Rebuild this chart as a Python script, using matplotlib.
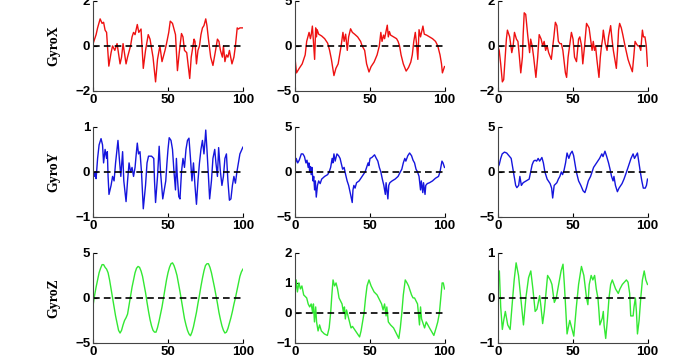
#!/usr/bin/env python3
# -*- coding: utf-8 -*-

"""3x3 gyro traces (GyroX / GyroY / GyroZ), MATLAB style panels."""

import numpy as np
import matplotlib
matplotlib.use("Agg")
import matplotlib.pyplot as plt

plt.rcParams["font.family"] = ["Liberation Sans", "DejaVu Sans"]

# ============================
# Data
# ============================
ROW_LABELS = ["GyroX", "GyroY", "GyroZ"]

# row 1 - GyroX
gx1_x = [0, 1, 2, 3, 4.7, 6, 7, 8, 9, 10.5, 12, 13, 14.5, 16, 18, 19, 20, 22, 23, 25, 26, 27, 28, 29.5,
         30.5, 32, 33.5, 35, 36.8, 38, 40, 41.7, 43, 44.6, 46, 48, 49, 50.5, 51.5, 53, 55, 56.3, 57.5, 59,
         60, 61, 62.5, 64.5, 65.5, 67.4, 68, 69, 70, 71, 72, 73, 74, 75.2, 76, 77, 78.5, 80, 81.5, 83, 84,
         85, 86.3, 87, 88, 89, 90, 91, 92.7, 94, 95, 96.2, 97, 98, 100]
gx1_y = [0.1, 0.3, 0.5, 0.8, 1.2, 1.0, 1.05, 0.7, 0.6, -0.9, -0.3, 0.0, -0.2, 0.1, -0.8, -0.5, 0.1, -0.8,
         -0.5, 0.0, 0.4, 0.6, 0.5, 0.95, 0.6, 0.75, -1.0, -0.2, 0.5, 0.3, -0.5, -1.6, -0.6, 0.0, -0.7,
         -0.2, 0.1, 0.6, 1.1, 1.0, 0.5, -1.1, -0.3, 0.55, 0.4, -0.2, -0.3, -1.45, -0.5, 0.3, 0.2, -0.8,
         -0.2, 0.0, 0.5, 0.8, 0.9, 1.2, 0.9, 0.3, -0.5, -0.87, -0.3, 0.3, 0.2, -0.2, -0.5, 0.0, -0.7,
         -0.4, -0.5, -0.2, -0.8, -0.5, 0.0, 0.8, 0.75, 0.8, 0.8]

gx2_x = [0, 1.2, 3, 5, 7, 8, 9.6, 10.5, 11, 11.8, 12.5, 13.3, 14, 14.5, 15, 16, 18, 20, 22, 23.3, 24.5,
         26.2, 27.5, 29, 30, 31, 32.2, 33, 34, 35.1, 36, 37.3, 38.5, 40, 42, 44, 45, 46.7, 48, 49.6, 51,
         53, 55, 56.5, 57.5, 58.3, 59.3, 60, 61.8, 62.5, 63.2, 64, 66, 68, 69, 70, 71, 72.5, 74.4, 76,
         77.5, 78.5, 79.5, 80.5, 81.3, 82.2, 83, 84, 85.6, 86.5, 88, 90, 92, 94, 95.5, 97, 98, 98.6, 100]
gx2_y = [-1.0, -3.0, -2.5, -2.0, -1.0, 0.5, 1.5, 0.8, 1.2, 2.2, 0.5, -1.5, 2.0, 1.0, 1.8, 1.3, 1.1, 0.8,
         0.3, -0.5, -1.5, -3.3, -2.5, -2.0, -1.0, 0.0, 1.5, 0.5, 1.3, -0.5, 1.0, 1.9, 1.5, 1.3, 1.0, 0.5,
         0.0, -0.5, -2.0, -2.9, -2.3, -1.8, -1.0, 0.0, 1.5, 0.5, 1.2, 0.8, 2.3, 1.0, 1.6, 1.2, 1.0, 0.8,
         0.5, 0.0, -1.0, -2.0, -2.8, -2.4, -1.8, -1.0, 0.5, 1.5, 0.3, -1.5, 1.8, 1.0, 2.2, 1.3, 1.2, 1.0,
         0.8, 0.5, 0.0, -1.0, -2.0, -3.0, -2.3]

gx3_x = [0, 1, 2, 3.1, 4, 5, 5.8, 6.5, 8, 9.4, 10.3, 11.2, 12.5, 13.5, 14.5, 15.4, 16.5, 17, 17.7, 18.7,
         20, 21.3, 22, 23, 24, 25.5, 26.7, 27.7, 29, 30, 31, 32, 33, 34, 35.8, 36.8, 37.5, 38.5, 39.5,
         40.5, 41.5, 42.5, 43.5, 45.2, 46, 47, 49.2, 50.3, 51.3, 52.6, 53.3, 54, 54.8, 56, 56.8, 58, 59.3,
         61, 62, 63, 63.8, 64.6, 65.3, 66.2, 67.6, 68.5, 69.3, 70, 70.5, 71.8, 73, 74, 75.4, 76.3, 77.2,
         79.2, 80, 80.7, 81.4, 82.5, 83.5, 85, 86, 87, 88, 89.9, 90.8, 91.7, 92.5, 93.5, 94.5, 95.5, 96.6,
         97.3, 98.3, 99.2, 100]
gx3_y = [0.0, -0.2, -0.8, -1.6, -1.5, -0.5, 0.3, 0.7, 0.4, -0.3, 0.0, 0.6, 0.3, 0.2, -0.5, -1.2, -0.5,
         0.5, 1.47, 1.4, 0.5, -0.3, 0.3, 0.0, -0.5, -1.4, -0.5, 0.5, 0.3, 0.0, 0.2, -0.2, 0.0, -0.3, -0.6,
         0.0, 0.4, 1.05, 0.9, 0.2, 0.1, 0.1, -0.2, -1.2, -1.4, -0.5, 0.6, 0.3, -0.5, -0.7, -0.2, 0.3, 0.4,
         0.0, -0.8, 0.0, 1.0, 0.8, 0.3, -0.2, 0.2, -0.2, 0.0, -0.6, -1.4, -0.5, 0.0, 0.3, 0.7, 0.1, -0.2,
         0.4, 0.9, 0.3, -0.2, -1.0, -0.2, 0.7, 1.0, 0.8, 0.5, 0.0, -0.3, -0.6, -0.8, -1.15, -0.5, 0.2,
         0.1, 0.0, 0.0, -0.2, 0.7, 0.4, 0.4, 0.0, -0.9]

# row 2 - GyroY
gy1_x = [0, 1, 1.5, 2, 3, 4, 5.3, 6.3, 7, 8, 9, 9.5, 10, 10.6, 12, 13, 14, 15, 15.8, 16.6, 17.5, 18.5,
         19.7, 20.5, 22, 23, 24, 25, 26, 27, 28, 28.8, 29.5, 30.3, 31.3, 32.3, 33.5, 35, 36, 37, 39, 40.5,
         41, 41.7, 43, 44.1, 45, 46.5, 47.5, 48.5, 49.3, 50, 50.8, 52, 53, 54, 55, 55.6, 56.2, 57.2, 58,
         59, 60, 61, 62, 63, 64, 65, 66, 67, 68, 69, 70, 71, 72, 73, 74, 74.5, 75.2, 76, 77, 77.8, 79,
         80, 81.2, 82, 83, 83.8, 85, 86, 87, 88, 89, 90, 91, 92, 93, 94, 95, 96, 97, 98, 100]
gy1_y = [0.0, -0.1, 0.0, -0.15, 0.3, 0.6, 0.74, 0.6, 0.2, 0.5, 0.3, 0.45, -0.1, -0.5, -0.3, -0.1, -0.2,
         0.2, 0.45, 0.7, 0.3, -0.1, 0.45, -0.2, -0.66, -0.2, 0.2, 0.0, 0.1, -0.1, 0.1, 0.4, 0.64, 0.4,
         0.45, 0.0, -0.82, -0.3, 0.2, 0.35, 0.35, 0.3, -0.2, -0.68, -0.1, 0.57, 0.0, -0.6, -0.4, -0.2,
         0.2, 0.5, 0.76, 0.7, 0.5, 0.0, -0.4, 0.3, -0.1, -0.55, -0.6, 0.0, 0.3, 0.1, 0.5, 0.7, 0.75, 0.3,
         -0.2, 0.2, -0.3, -0.72, -0.2, 0.2, 0.5, 0.7, 0.4, 0.6, 0.93, 0.5, -0.1, -0.6, -0.2, 0.3, 0.5,
         0.2, -0.1, 0.54, 0.0, -0.3, -0.1, 0.3, 0.4, -0.2, -0.63, -0.6, -0.3, -0.1, -0.25, 0.0, 0.2, 0.4,
         0.55]

gy2_x = [0, 1, 2, 3, 4.4, 5.5, 6.5, 7.5, 8.2, 9, 9.5, 10, 10.5, 11, 11.5, 12.2, 12.7, 13.3, 13.8, 14.4,
         15.2, 16, 17, 18, 20, 22, 23, 24, 25, 25.5, 26.2, 27, 28.2, 29.3, 30.3, 31, 32, 33, 34, 35, 36,
         37.3, 38.4, 38.9, 39.5, 40.3, 41.3, 43, 45, 47, 48, 49, 49.5, 50.3, 51.5, 53.3, 54.5, 55.5, 56.5,
         57.5, 58.5, 59.5, 60.5, 61, 62.2, 62.8, 63.5, 65, 67, 69, 70.5, 71.5, 72.5, 73.5, 74.2, 75.5,
         76.7, 78, 79, 80, 81, 82, 83, 84, 84.5, 85.5, 86, 87, 87.5, 88.5, 90, 92, 94, 96, 97, 98.3, 99,
         100]
gy2_y = [0.5, 1.5, 1.0, 1.3, 2.0, 2.0, 1.7, 1.0, 1.3, 0.5, 1.0, 0.0, 0.6, -0.3, 0.5, -1.0, -0.5, -2.0,
         -1.0, -2.8, -1.5, -1.0, -1.3, -0.8, -0.5, -0.3, 0.0, 0.5, 1.5, 1.0, 2.0, 1.2, 2.0, 1.8, 1.5, 1.0,
         0.3, 0.5, -0.3, -1.0, -1.5, -2.5, -3.4, -2.0, -1.5, -1.8, -1.2, -1.0, -0.5, 0.0, 0.5, 1.0, 0.7,
         1.5, 1.6, 1.9, 1.5, 1.2, 0.5, 0.0, -0.8, -1.5, -2.5, -1.2, -3.0, -1.5, -1.2, -1.0, -0.8, -0.5,
         0.0, 0.3, 1.0, 1.5, 1.2, 1.8, 2.1, 1.8, 1.3, 1.0, 0.3, 0.0, -0.5, -2.0, -1.0, -2.3, -1.2, -2.5,
         -1.5, -1.3, -1.2, -1.0, -0.7, -0.5, 0.0, 1.2, 1.0, 0.5]

gy3_x = [0, 1, 2, 3, 4.5, 6, 7.5, 9, 10, 11, 12, 12.8, 14, 14.8, 15.8, 17, 19, 21, 22, 23, 24, 25, 26,
         27, 28, 29.5, 30.5, 31.5, 33, 35, 36, 36.7, 37.7, 39.5, 40.5, 41.5, 42.5, 43.3, 44.3, 45.3, 46.3,
         47.5, 48.5, 49.7, 50.7, 51.5, 52.5, 54, 55.5, 57, 58.2, 59.2, 60.5, 62, 63, 64, 66, 68, 69.5,
         70.3, 71.6, 72.6, 74, 75, 76, 77, 77.6, 78.6, 79.9, 81, 83, 84.3, 86, 87, 88, 89, 90.4, 91.3,
         92.3, 93.3, 94.3, 95.2, 96.2, 97.2, 98.5, 99.3, 100]
gy3_y = [0.5, 0.8, 1.5, 2.0, 2.2, 2.1, 1.8, 1.5, 0.5, -0.5, -1.5, -1.75, -1.5, -0.5, -1.5, -1.2, -1.0,
         -0.8, 0.0, 0.8, 1.2, 1.3, 1.2, 1.5, 1.2, 1.6, 1.0, 0.0, -0.8, -1.3, -1.8, -2.9, -1.5, -1.2, -0.8,
         -0.5, 0.0, -0.3, 0.2, 1.0, 2.1, 1.5, 2.0, 2.3, 1.8, 1.0, 0.0, -1.0, -1.5, -2.1, -2.3, -1.8, -1.0,
         -0.5, 0.0, 0.5, 1.0, 1.5, 2.0, 1.7, 2.3, 1.8, 1.0, 0.3, -0.5, -1.0, -0.5, -1.5, -2.2, -1.8, -1.3,
         -0.8, 0.0, 0.5, 1.0, 1.5, 2.0, 1.5, 1.8, 2.1, 1.0, 0.0, -1.0, -1.8, -1.8, -1.5, -0.8]

# row 3 - GyroZ
gz1_x = list(range(101))
gz1_y = [-0.8, 0.3, 1.2, 2.0, 2.8, 3.3, 3.7, 3.7, 3.4, 3.2, 2.8, 2.0, 1.0, 0.0, -1.0, -2.0, -2.8, -3.6,
         -3.9, -3.6, -3.0, -2.5, -2.2, -1.8, -0.8, 0.2, 1.2, 2.0, 2.8, 3.3, 3.5, 3.4, 3.0, 2.4, 1.5, 0.6,
         -0.5, -1.5, -2.4, -3.1, -3.6, -3.8, -3.8, -3.3, -2.6, -1.8, -1.0, 0.0, 1.0, 2.0, 2.8, 3.4, 3.8,
         3.9, 3.6, 3.1, 2.5, 1.6, 0.7, -0.3, -1.3, -2.3, -3.0, -3.6, -4.0, -4.2, -3.8, -3.2, -2.4, -1.6,
         -0.6, 0.3, 1.3, 2.2, 3.0, 3.6, 3.8, 3.8, 3.4, 2.8, 2.0, 1.2, 0.3, -0.6, -1.6, -2.4, -3.1, -3.6,
         -3.9, -3.8, -3.4, -2.8, -2.2, -1.5, -0.7, 0.0, 0.8, 1.6, 2.4, 2.9, 3.2]

gz2_x = [0, 1, 1.8, 2.8, 3.8, 4.8, 6, 8, 9, 10, 11, 12, 12.5, 13.2, 14, 14.6, 15.6, 16.6, 17.8, 19.8,
         21.8, 23, 24, 24.8, 25.6, 26.6, 27.6, 28.6, 29.6, 30.6, 31.6, 32.6, 33.2, 33.8, 34.6, 35.6, 36.6,
         37.6, 38.6, 40.6, 43.3, 44.3, 45.3, 46.3, 47.3, 48.3, 49.6, 51, 53, 55, 57, 58, 59, 60, 61, 61.5,
         62.5, 64, 66, 68, 69.5, 70.5, 71.5, 72.5, 73.8, 75, 76, 78, 79, 80, 82, 83.3, 84, 84.7, 86.7,
         87.8, 90, 92.9, 94.4, 95.5, 96.6, 97.7, 98.4, 99.2, 100]
gz2_y = [0.5, 1.1, 0.7, 1.0, 0.8, 0.9, 0.6, 0.5, 0.3, 0.2, 0.3, 0.0, 0.3, -0.3, 0.2, -0.3, -0.6, -0.4,
         -0.6, -0.7, -0.75, -0.5, 0.0, 0.6, 1.1, 0.9, 1.0, 0.8, 0.5, 0.4, 0.3, 0.0, 0.2, -0.2, 0.1, -0.1,
         -0.3, -0.5, -0.45, -0.6, -0.8, -0.6, -0.3, 0.0, 0.5, 0.9, 1.1, 0.9, 0.7, 0.6, 0.4, 0.3, 0.1, 0.3,
         -0.1, 0.2, -0.3, -0.4, -0.5, -0.7, -0.85, -0.5, 0.0, 0.6, 1.1, 1.0, 0.9, 0.6, 0.5, 0.5, 0.3,
         -0.4, 0.2, -0.2, -0.5, -0.3, -0.5, -0.75, -0.5, -0.3, 0.0, 0.6, 1.0, 1.0, 0.8]

gz3_x = [0, 1.1, 2, 3.1, 4, 5.1, 6.7, 8.3, 10, 11, 12.3, 13.9, 15.4, 17.2, 18.8, 20.6, 22.1, 23.5, 25,
         26.2, 28, 28.9, 30, 31.1, 33.3, 35.1, 36.2, 37.8, 39.1, 40.7, 42.3, 43.6, 44.5, 45.5, 46.3, 48.1,
         50.8, 52.5, 54, 55.9, 57.5, 59.3, 60.2, 61.1, 62.4, 63.5, 64.7, 65.8, 66.9, 67.6, 68.2, 69.8,
         70.5, 71, 72.1, 73.2, 74.3, 75.4, 76.5, 77.6, 78.7, 80.5, 81.6, 83.2, 85.9, 87, 88.1, 88.8, 90.4,
         91, 91.9, 92.6, 93.3, 94.4, 95.5, 96.6, 97.8, 98.9, 100]
gz3_y = [0.6, 0.6, -0.2, -0.7, -0.5, -0.3, -0.6, -0.7, 0.0, 0.4, 0.78, 0.5, 0.0, -0.6, 0.0, 0.45, 0.6,
         0.2, -0.3, -0.25, 0.05, -0.2, -0.57, -0.3, 0.5, 0.4, 0.3, -0.1, 0.0, 0.3, 0.6, 0.75, 0.3, -0.3,
         -0.8, -0.5, -0.85, -0.2, 0.3, 0.7, 0.5, 0.0, -0.15, 0.3, 0.5, 0.4, 0.5, 0.2, 0.0, -0.3, -0.6,
         -0.45, -0.3, -0.6, -0.9, -0.5, 0.0, 0.3, 0.4, 0.3, 0.2, 0.1, 0.2, 0.3, 0.4, 0.35, 0.1, -0.4,
         -0.4, -0.2, 0.0, -0.3, -0.8, -0.5, 0.0, 0.4, 0.6, 0.4, 0.3]

PANEL_DATA = [
    [(gx1_x, gx1_y), (gx2_x, gx2_y), (gx3_x, gx3_y)],
    [(gy1_x, gy1_y), (gy2_x, gy2_y), (gy3_x, gy3_y)],
    [(gz1_x, gz1_y), (gz2_x, gz2_y), (gz3_x, gz3_y)],
]

# y tick values per panel
Y_TICKS = [
    [[-2, 0, 2], [-5, 0, 5], [-2, 0, 2]],
    [[-1, 0, 1], [-5, 0, 5], [-5, 0, 5]],
    [[-5, 0, 5], [-1, 0, 1, 2], [-1, 0, 1]],
]
X_TICKS = [0, 50, 100]

ROW_COLORS = ["#ee1111", "#1515dd", "#33e833"]

# ============================
# Layout (figure fractions)
# ============================
COL_LEFT = [0.133, 0.421, 0.711]
ROW_BOTTOM = [0.744, 0.389, 0.034]
AX_W = 0.214
AX_H = 0.2535


def draw_panel(ax, xs, ys, color, yticks):
    ax.plot(xs, ys, color=color, linewidth=1.0)
    ax.axhline(0, color="black", linestyle=(0, (4, 2.5)), linewidth=1.2)
    ax.set_xlim(0, 100)
    ax.set_ylim(yticks[0], yticks[-1])
    ax.set_xticks(X_TICKS)
    ax.set_yticks(yticks)
    ax.spines["top"].set_visible(False)
    ax.spines["right"].set_visible(False)
    for side in ("left", "bottom"):
        ax.spines[side].set_color("#444444")
    ax.tick_params(direction="in", length=3, width=0.8, labelsize=9.5, pad=2)
    for lab in ax.get_xticklabels() + ax.get_yticklabels():
        lab.set_fontweight("bold")


def main():
    fig = plt.figure(figsize=(7.0, 3.55), dpi=100)
    fig.patch.set_facecolor("white")

    for r in range(3):
        for c in range(3):
            ax = fig.add_axes([COL_LEFT[c], ROW_BOTTOM[r], AX_W, AX_H])
            xs, ys = PANEL_DATA[r][c]
            draw_panel(ax, xs, ys, ROW_COLORS[r], Y_TICKS[r][c])
            if c == 0:
                ax.set_ylabel(ROW_LABELS[r], family=["Liberation Serif", "DejaVu Serif"],
                              fontweight="bold", fontsize=10)
                ax.yaxis.set_label_coords(-0.22, 0.5)

    fig.savefig("out.png", dpi=100, facecolor="white")
    plt.close(fig)


if __name__ == "__main__":
    main()
